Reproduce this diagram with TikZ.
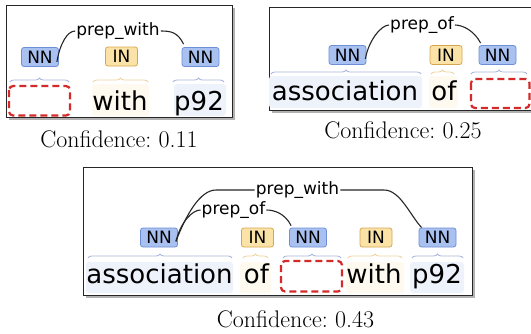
\documentclass[tikz,border=0pt]{standalone}
\usepackage{fontspec}
\newfontfamily\tagfont{DejaVu Sans}
\usetikzlibrary{decorations.pathreplacing}
\definecolor{nnfill}{HTML}{A9C1F0}
\definecolor{nnline}{HTML}{6E8ED6}
\definecolor{infill}{HTML}{FBE3A8}
\definecolor{inline}{HTML}{D6A64E}
\definecolor{nnbrace}{HTML}{A8B6DA}
\definecolor{inbrace}{HTML}{EED3A0}
\definecolor{hlblue}{HTML}{EEF2FB}
\definecolor{hlyel}{HTML}{FEFAF0}
\definecolor{redbox}{HTML}{D42A2A}
\tikzset{
  panel/.style={draw=black!85, line width=0.9pt, fill=white},
  shadowbox/.style={fill=black!30, draw=none},
  nntag/.style={draw=nnline, fill=nnfill, rounded corners=2.5pt, line width=0.8pt,
    font=\tagfont\fontsize{17}{17}\selectfont, inner sep=0pt, minimum width=37pt, minimum height=19pt},
  intag/.style={draw=inline, fill=infill, rounded corners=2.5pt, line width=0.8pt,
    font=\tagfont\fontsize{17}{17}\selectfont, inner sep=0pt, minimum width=32pt, minimum height=19pt},
  word/.style={font=\tagfont\fontsize{26}{26}\selectfont, inner sep=0pt, anchor=base},
  rel/.style={font=\tagfont\fontsize{17}{17}\selectfont, inner sep=1pt},
  arc/.style={draw=black!85, line width=1.1pt},
  nnbr/.style={draw=nnbrace, line width=0.8pt, decorate, decoration={brace, amplitude=4pt}},
  inbr/.style={draw=inbrace, line width=0.8pt, decorate, decoration={brace, amplitude=4pt}},
  gap/.style={draw=redbox, line width=2.2pt, dash pattern=on 7pt off 4pt, rounded corners=4pt},
  conf/.style={font=\fontsize{24}{24}\selectfont\frenchspacing, inner sep=0pt, anchor=base},
}
\begin{document}
\begin{tikzpicture}[x=1pt,y=-1pt]
\useasboundingbox (0,0) rectangle (531,333);
% ---------- panel 1 ----------
\fill[shadowbox] (9,8) rectangle (235,120);
\draw[panel] (6,5) rectangle (232,117);
\fill[hlblue, rounded corners=3pt] (174,84) rectangle (226,116);
\fill[hlyel, rounded corners=3pt] (92,84) rectangle (149,116);
\node[nntag] (a1) at (40,57) {NN};
\node[intag] (a2) at (121.5,56.5) {IN};
\node[nntag] (a3) at (200.5,57) {NN};
\draw[nnbr] (10,82) -- (69,82);
\draw[inbr] (93,82) -- (148,82);
\draw[nnbr] (173,82) -- (224,82);
\draw[gap] (9,86) rectangle (70,115.5);
\node[word] (aw2) at (120,110) {with};
\node[word] (aw3) at (199,110) {p92};
\node[rel] (al) at (118,31) {prep\_with};
\draw[arc] (al.west) .. controls +(-8,0) and +(3,-18) .. ([shift={(-2,-5)}]a1.south east);
\draw[arc] (al.east) .. controls +(10,0) and +(-6,-12) .. ([shift={(2,-3)}]a3.north west);
\node[conf] (ac) at (119,147) {Confidence: 0.11};
% ---------- panel 2 ----------
\fill[shadowbox] (272,10) rectangle (545,113);
\draw[panel] (269,7) rectangle (545,110);
\fill[hlblue, rounded corners=3pt] (269,76) rectangle (422,108);
\fill[hlyel, rounded corners=3pt] (429,76) rectangle (458,108);
\node[nntag] (b1) at (347.5,55) {NN};
\node[intag] (b2) at (446,55) {IN};
\node[nntag] (b3) at (497.5,55) {NN};
\draw[nnbr] (271,74) -- (421,74);
\draw[inbr] (431,74) -- (454,74);
\draw[nnbr] (471,74) -- (527,74);
\draw[gap] (471,79) rectangle (529.5,108);
\node[word] (bw1) at (345,100) {association};
\node[word] (bw2) at (444,100) {of};
\node[rel] (bl) at (422,25) {prep\_of};
\draw[arc] (bl.west) .. controls +(-8,0) and +(3,-18) .. ([shift={(-1,-6)}]b1.south east);
\draw[arc] (bl.east) .. controls +(8,0) and +(-6,-12) .. ([shift={(2,-2)}]b3.north west);
\node[conf] (bc) at (403,138) {Confidence: 0.25};
% ---------- panel 3 ----------
\fill[shadowbox] (86,170) rectangle (475,298);
\draw[panel] (83,167) rectangle (472,295);
\fill[hlblue, rounded corners=3pt] (86,262) rectangle (233,293);
\fill[hlyel, rounded corners=3pt] (240,262) rectangle (271,293);
\fill[hlyel, rounded corners=3pt] (346,262) rectangle (404,293);
\fill[hlblue, rounded corners=3pt] (410,262) rectangle (464,293);
\node[nntag] (c1) at (159,237.5) {NN};
\node[intag] (c2) at (257.5,237.5) {IN};
\node[nntag] (c3) at (308,237.5) {NN};
\node[intag] (c4) at (376,237.5) {IN};
\node[nntag] (c5) at (437.5,237.5) {NN};
\draw[nnbr] (88,258) -- (232,258);
\draw[inbr] (243,258) -- (268,258);
\draw[nnbr] (283,258) -- (341,258);
\draw[inbr] (348,258) -- (402,258);
\draw[nnbr] (412,258) -- (463,258);
\draw[gap] (281,261) rectangle (342,291.5);
\node[word] (cw1) at (159.5,283) {association};
\node[word] (cw2) at (256.5,283) {of};
\node[word] (cw4) at (374,283) {with};
\node[word] (cw5) at (437,283) {p92};
\node[rel] (cl1) at (297.5,190) {prep\_with};
\node[rel] (cl2) at (233.5,210) {prep\_of};
\draw[arc] (cl1.west) -- (216,190) .. controls (200,190) and (186,215) .. ([shift={(-2,-6)}]c1.south east);
\draw[arc] (cl2.west) .. controls +(-8,0) and +(5,-20) .. ([shift={(-2,-6)}]c1.south east);
\draw[arc] (cl1.east) -- (384,190) .. controls (400,190) and (410,215) .. ([shift={(3,0)}]c5.north west);
\draw[arc] (cl2.east) .. controls +(8,0) and +(-6,-12) .. ([shift={(2,-2)}]c3.north west);
\node[conf] (cc) at (295.5,327) {Confidence: 0.43};
\end{tikzpicture}
\end{document}
